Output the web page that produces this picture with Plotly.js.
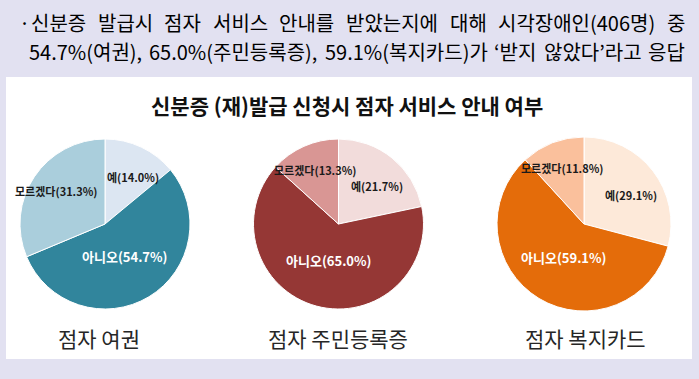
<!DOCTYPE html>
<html><head><meta charset="utf-8">
<script src="https://cdn.plot.ly/plotly-3.0.1.min.js"></script>
<style>html,body{margin:0;padding:0;background:#e2e1f1;}#chart{width:699px;height:379px;}</style>
</head><body><div id="chart"></div>
<script>
// ---- data ----
const categories = ['예', '아니오', '모르겠다'];
const passport = [14.0, 54.7, 31.3];
const idCard = [21.7, 65.0, 13.3];
const welfareCard = [29.1, 59.1, 11.8];
const chartNames = ['점자 여권', '점자 주민등록증', '점자 복지카드'];
const mainTitle = '신분증 (재)발급 신청시 점자 서비스 안내 여부';
const headerBullet = '·';
const headerWords1 = ['신분증', '발급시', '점자', '서비스', '안내를', '받았는지에', '대해', '시각장애인(406명)', '중'];
const headerWords2 = ['54.7%(여권),', '65.0%(주민등록증),', '59.1%(복지카드)가', '‘받지', '않았다’라고', '응답'];

// ---- styles / geometry ----
const W = 699, H = 379;
const series = [passport, idCard, welfareCard];
const palettes = [
  ['#dce6f2', '#31859c', '#aacedc'],
  ['#f2dcdb', '#953735', '#d99694'],
  ['#fde9d9', '#e46c0a', '#fac09c']
];
const centersX = [105, 338.5, 584];
const subtitleX = [99, 337.5, 585];
const centerY = 224;
const radii = [85, 85, 87];
const labelRadiusFrac = [0.64, 0.45, 0.69];
const labelAngleShiftDeg = [6, 0, 0];
const labelColors = ['#1a1a1a', '#ffffff', '#1a1a1a'];
const labelSizes = [11, 13, 11];
const FONT = '"Noto Sans CJK KR", "Noto Sans", sans-serif';
const HEADER_SIZE = 20;

const px = x => x / W;
const py = y => 1 - y / H;

const traces = [];
const annotations = [];

series.forEach((vals, k) => {
  const cx = centersX[k], r = radii[k];
  traces.push({
    type: 'pie',
    values: vals,
    labels: categories,
    sort: false,
    direction: 'clockwise',
    rotation: 0,
    textinfo: 'none',
    hoverinfo: 'label+value',
    marker: { colors: palettes[k], line: { color: '#ffffff', width: 1 } },
    domain: { x: [px(cx - r), px(cx + r)], y: [py(centerY + r), py(centerY - r)] },
    showlegend: false
  });
  const total = vals.reduce((a, b) => a + b, 0);
  let cum = 0;
  vals.forEach((v, i) => {
    const mid = (cum + v / 2) / total * 2 * Math.PI + labelAngleShiftDeg[i] * Math.PI / 180;
    cum += v;
    const d = labelRadiusFrac[i] * r;
    const lx = cx + d * Math.sin(mid);
    const ly = centerY - d * Math.cos(mid);
    annotations.push({
      xref: 'paper', yref: 'paper', x: px(lx), y: py(ly),
      xanchor: 'center', yanchor: 'middle', showarrow: false,
      text: '<b>' + categories[i] + '(' + v.toFixed(1) + '%)</b>',
      font: { family: FONT, size: labelSizes[i], color: labelColors[i] }
    });
  });
  annotations.push({
    xref: 'paper', yref: 'paper', x: px(subtitleX[k]), y: py(338),
    xanchor: 'center', yanchor: 'middle', showarrow: false,
    text: chartNames[k],
    font: { family: FONT, size: 21, color: '#262626' }
  });
});

annotations.push({
  xref: 'paper', yref: 'paper', x: px(346.5), y: py(105),
  xanchor: 'center', yanchor: 'middle', showarrow: false,
  text: '<b>' + mainTitle + '</b>',
  font: { family: FONT, size: 21, color: '#111111' }
});

// justified header lines (word widths measured with canvas)
const ctx = document.createElement('canvas').getContext('2d');
ctx.font = HEADER_SIZE + 'px "Noto Sans CJK KR"';
function justify(words, x0, x1, yc) {
  const widths = words.map(w => ctx.measureText(w).width);
  const sum = widths.reduce((a, b) => a + b, 0);
  const gap = words.length > 1 ? (x1 - x0 - sum) / (words.length - 1) : 0;
  let x = x0;
  words.forEach((w, i) => {
    annotations.push({
      xref: 'paper', yref: 'paper', x: px(x), y: py(yc),
      xanchor: 'left', yanchor: 'middle', showarrow: false,
      text: w, font: { family: FONT, size: HEADER_SIZE, color: '#000000' }
    });
    x += widths[i] + gap;
  });
}
annotations.push({
  xref: 'paper', yref: 'paper', x: px(24), y: py(23),
  xanchor: 'center', yanchor: 'middle', showarrow: false,
  text: headerBullet, font: { family: FONT, size: HEADER_SIZE, color: '#000000' }
});
justify(headerWords1, 29, 683, 23);
justify(headerWords2, 27, 683, 51);

const layout = {
  width: W, height: H,
  margin: { l: 0, r: 0, t: 0, b: 0 },
  paper_bgcolor: '#e2e1f1',
  plot_bgcolor: '#e2e1f1',
  shapes: [{
    type: 'rect', xref: 'paper', yref: 'paper', layer: 'below',
    x0: px(6), x1: px(692), y0: py(359), y1: py(77),
    fillcolor: '#ffffff', line: { width: 0 }
  }],
  annotations: annotations
};

Plotly.newPlot('chart', traces, layout, { displayModeBar: false, staticPlot: true });
</script>
</body></html>
